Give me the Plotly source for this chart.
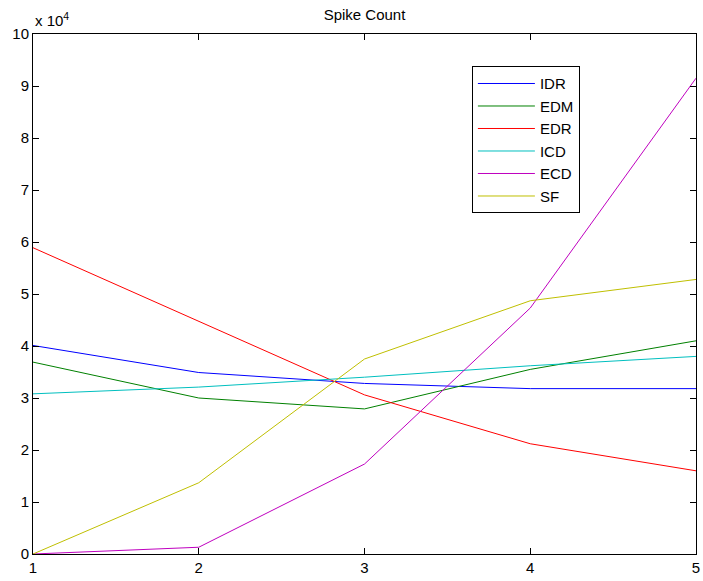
import plotly.graph_objects as go

x_vals = [1, 2, 3, 4, 5]
idr = [40100, 34900, 32800, 31800, 31800]
edm = [36900, 30000, 27900, 35500, 41000]
edr = [58900, 44800, 30600, 21200, 16000]
icd = [30800, 32100, 34000, 36200, 38000]
ecd = [0, 1300, 17300, 47300, 91500]
sf = [0, 13700, 37500, 48700, 52800]

names = ["IDR", "EDM", "EDR", "ICD", "ECD", "SF"]
series = [idr, edm, edr, icd, ecd, sf]
colors = ["rgb(0,0,255)", "rgb(0,128,0)", "rgb(255,0,0)",
          "rgb(0,191,191)", "rgb(191,0,191)", "rgb(191,191,0)"]

y_ticks = list(range(0, 100001, 10000))
y_tick_labels = [str(v // 10000) for v in y_ticks]

FONT = "Liberation Sans, Arial, Helvetica"

fig = go.Figure()
for n, s, c in zip(names, series, colors):
    fig.add_trace(go.Scatter(x=x_vals, y=s, mode="lines", name=n,
                             line=dict(color=c, width=1)))

axis_common = dict(showline=True, linecolor="black", linewidth=1, mirror="ticks",
                   ticks="inside", ticklen=6, tickcolor="black", showgrid=False,
                   zeroline=False, automargin=False,
                   tickfont=dict(family=FONT, size=15, color="black"))

fig.update_layout(
    width=703, height=581,
    margin=dict(l=33, r=7, t=34, b=27),
    paper_bgcolor="white", plot_bgcolor="white",
    title=dict(text="Spike Count", x=0.5, xref="paper", xanchor="center",
               y=1 - 15 / 581, yanchor="middle",
               font=dict(family=FONT, size=15, color="black")),
    xaxis=dict(range=[1, 5], tickvals=x_vals, ticktext=[str(v) for v in x_vals], **axis_common),
    yaxis=dict(range=[0, 100000], tickvals=y_ticks, ticktext=y_tick_labels, **axis_common),
    legend=dict(x=0.662, y=0.938, xanchor="left", yanchor="top",
                bgcolor="white", bordercolor="black", borderwidth=1,
                font=dict(family=FONT, size=15, color="black"),
                tracegroupgap=0, itemwidth=57, entrywidth=118, entrywidthmode="pixels"),
    showlegend=True,
    annotations=[dict(text="x 10<sup>4</sup>", xref="paper", yref="paper", x=0, y=1,
                      xanchor="left", yanchor="bottom", yshift=3, showarrow=False,
                      font=dict(family=FONT, size=15, color="black"))],
)

fig.write_html("out.html")
